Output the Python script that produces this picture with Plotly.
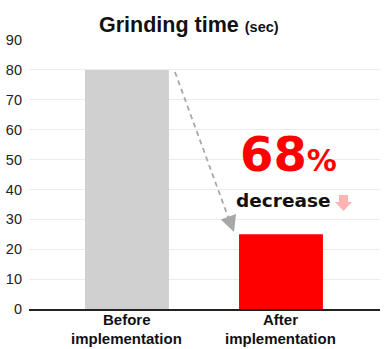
import plotly.graph_objects as go

cat_line1 = ["Before", "After"]
cat_line2 = ["implementation", "implementation"]
values = [80, 25]
colors = ["#d0d0d0", "#ff0000"]
y_ticks = [0, 10, 20, 30, 40, 50, 60, 70, 80, 90]

# pixel <-> data helpers for decorative annotations
X0_PX, X_UNIT = 127.0, 154.0
Y0_PX, Y_UNIT = 309.0, 269.0 / 90.0
def dx(px): return (px - X0_PX) / X_UNIT
def dy(py): return (Y0_PX - py) / Y_UNIT
def py_paper(py): return (309.0 - py) / 269.0

fig = go.Figure()
fig.add_trace(go.Bar(
    x=[0, 1], y=values, marker=dict(color=colors, line=dict(width=0)),
    width=0.545, hoverinfo="skip"))

fig.update_layout(
    width=386, height=349,
    margin=dict(l=29, r=6, t=40, b=40),
    plot_bgcolor="white", paper_bgcolor="white",
    showlegend=False,
    font=dict(family="Arial, Liberation Sans, sans-serif", color="#111"),
    xaxis=dict(range=[-0.636, 1.643], tickvals=[0, 1], showticklabels=False,
               showgrid=False, automargin=False,
               showline=True, linecolor="#222", linewidth=1.5, ticks="",
               zeroline=False, fixedrange=True),
    yaxis=dict(range=[0, 90], tickvals=y_ticks, showgrid=True, automargin=False,
               gridcolor="#ececec", gridwidth=1, zeroline=False,
               tickfont=dict(size=14.5, color="#222"), ticks="", ticklabelstandoff=6,
               fixedrange=True),
)

# category labels (two tight lines, touching boxes)
for i, (l1, l2) in enumerate(zip(cat_line1, cat_line2)):
    fig.add_annotation(x=i, y=py_paper(329), xref="x", yref="paper", showarrow=False,
                       yanchor="bottom", borderpad=0, text=f"<b>{l1}</b>",
                       font=dict(size=15, color="#111"))
    fig.add_annotation(x=i, y=py_paper(329), xref="x", yref="paper", showarrow=False,
                       yanchor="top", borderpad=0, text=f"<b>{l2}</b>",
                       font=dict(size=15, color="#111"))

fig.add_annotation(xref="paper", yref="paper", x=0.457, y=1.0, yshift=15,
                   text="<b>Grinding time</b> <b><span style='font-size:14.5px'>(sec)</span></b>",
                   showarrow=False, font=dict(size=21.5, color="#111"), yanchor="middle")

# dashed line
fig.add_shape(type="line", x0=dx(175), y0=dy(72), x1=dx(230), y1=dy(222), xref="x", yref="y",
              line=dict(color="#a8a8a8", width=1.8, dash="5px,4px"))
# arrow head
fig.add_annotation(x=dx(234), y=dy(232), xref="x", yref="y", axref="pixel", ayref="pixel",
                   ax=-4, ay=-11, text="", showarrow=True, arrowhead=2, arrowsize=1.8,
                   arrowwidth=1.8, arrowcolor="#a8a8a8")

fig.add_annotation(x=dx(288.5), y=dy(154), xref="x", yref="y", showarrow=False,
                   text="<b>68<span style='font-size:30px'>%</span></b>",
                   font=dict(size=48, color="#ff0000", family="DejaVu Sans"))
fig.add_annotation(x=dx(283), y=dy(200), xref="x", yref="y", showarrow=False,
                   text="<b>decrease</b>", font=dict(size=18.5, color="#111", family="DejaVu Sans"))
# pink block arrow
pts = [(339, 195), (348, 195), (348, 202), (352, 202), (343.5, 211), (335, 202), (339, 202)]
path = "M " + " L ".join(f"{dx(px)},{dy(py)}" for px, py in pts) + " Z"
fig.add_shape(type="path", path=path, xref="x", yref="y",
              fillcolor="#ffb3b3", line=dict(width=0))

fig.write_html("out.html")
